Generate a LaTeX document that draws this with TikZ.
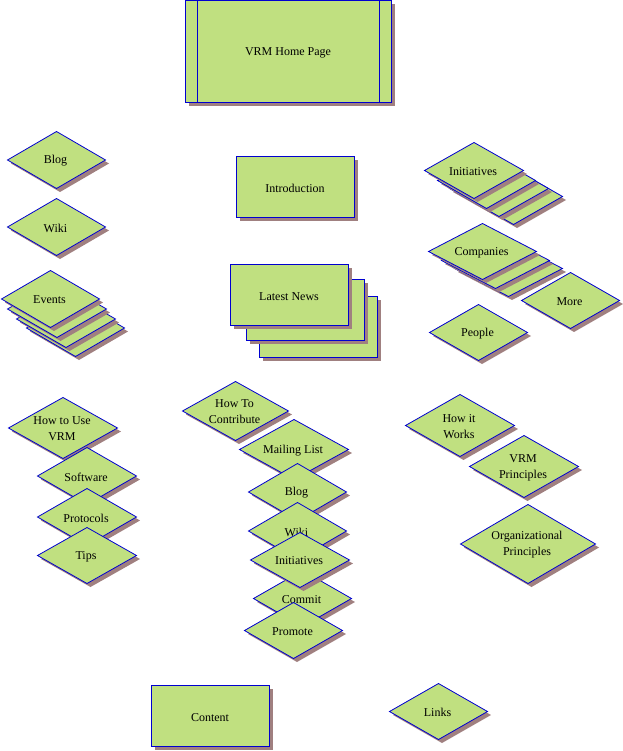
\documentclass[tikz,border=0pt]{standalone}
\usepackage{fontspec}
\setmainfont{Liberation Serif}
\definecolor{fillgreen}{RGB}{192,224,128}
\definecolor{shadowc}{RGB}{160,128,128}
\definecolor{edgeblue}{RGB}{0,0,208}
\tikzset{
  shapefill/.style={fill=fillgreen,draw=edgeblue,line width=0.8pt,line join=miter},
  shadowfill/.style={fill=shadowc,draw=none},
  lab/.style={font=\fontsize{12}{16}\selectfont,align=center,text=black,inner sep=0pt}
}
% #1 name, #2 left, #3 right, #4 top, #5 bottom, #6 text
\newcommand{\dia}[6]{%
  \begin{scope}[shift={(0.5,0.5)}]
  \fill[shadowfill] ({#2+3.5},{(#4+#5)/2+3.5}) -- ({(#2+#3)/2+3.5},{#4+3.5}) -- ({#3+3.5},{(#4+#5)/2+3.5}) -- ({(#2+#3)/2+3.5},{#5+3.5}) -- cycle;
  \draw[shapefill] (#2,{(#4+#5)/2}) -- ({(#2+#3)/2},#4) -- (#3,{(#4+#5)/2}) -- ({(#2+#3)/2},#5) -- cycle;
  \node[lab] (#1) at ({(#2+#3)/2-1},{(#4+#5)/2+1}) {#6};
  \end{scope}}
\newcommand{\rct}[6]{%
  \fill[shadowfill] ({#2+3.5},{#4+3.5}) rectangle ({#3+3.5},{#5+3.5});
  \draw[shapefill] (#2,#4) rectangle (#3,#5);
  \node[lab] (#1) at ({(#2+#3)/2-0.5},{(#4+#5)/2+1.5}) {#6};}
\begin{document}
\begin{tikzpicture}[x=1pt,y=-1pt]
\useasboundingbox (0,0) rectangle (622,751);
% home page
\rct{home}{185.5}{391.5}{0.5}{102.5}{VRM Home Page}
\draw[shapefill,fill=none] (197.5,0.5) -- (197.5,102.5) (379.5,0.5) -- (379.5,102.5);
\rct{intro}{236.5}{354.5}{156.5}{217.5}{Introduction}
% latest news stack
\rct{ln3}{259.5}{377.5}{296.5}{357.5}{}
\rct{ln2}{246.5}{364.5}{279.5}{340.5}{}
\rct{news}{230.5}{348.5}{264.5}{325.5}{Latest News}
\rct{content}{151.5}{269.5}{685.5}{746.5}{Content}
% left column
\dia{blog1}{7}{105}{131}{188}{Blog}
\dia{wiki1}{7}{105}{198}{255}{Wiki}
\dia{ev4}{26}{124}{299}{356}{}
\dia{ev3}{16}{115}{290}{347}{}
\dia{ev2}{7}{106}{280}{337}{}
\dia{events}{1}{99}{270}{327}{Events}
% right column
\dia{in4}{464}{562}{168}{224}{}
\dia{in3}{449}{548}{160}{216}{}
\dia{in2}{437}{535}{152}{208}{}
\dia{inits}{424}{523}{142}{198}{Initiatives}
\dia{co3}{454}{562}{240}{296}{}
\dia{co2}{441}{549}{232}{288}{}
\dia{comps}{428}{536}{223}{279}{Companies}
\dia{more}{521}{619}{272}{328}{More}
\dia{people}{429}{527}{304}{360}{People}
% how to use
\dia{howuse}{8}{117}{397}{458}{How to Use\\VRM}
\dia{soft}{37}{136}{447}{504}{Software}
\dia{proto}{37}{136}{488}{545}{Protocols}
\dia{tips}{37}{136}{527}{583}{Tips}
% how to contribute
\dia{contrib}{182}{288}{381}{440}{How To\\Contribute}
\dia{mail}{239}{348}{419}{479}{Mailing List}
\dia{blog2}{248}{346}{463}{520}{Blog}
\dia{wiki2}{248}{346}{502}{559}{Wiki}
\dia{commit}{253}{351}{570}{626}{Commit}
\dia{inits2}{250}{349}{532}{587}{Initiatives}
\dia{promote}{244}{342}{602}{658}{Promote}
% how it works
\dia{howworks}{405}{514}{394}{456}{How it\\Works}
\dia{vrmp}{469}{578}{435}{497}{VRM\\Principles}
\dia{orgp}{460}{595}{504}{583}{Organizational\\Principles}
\dia{links}{389}{487}{683}{739}{Links}
\end{tikzpicture}
\end{document}
